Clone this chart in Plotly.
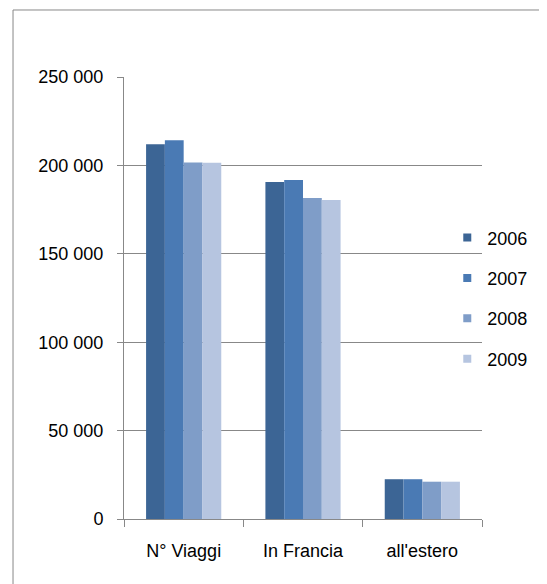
import plotly.graph_objects as go

categories = ["N° Viaggi", "In Francia", "all'estero"]
years = ["2006", "2007", "2008", "2009"]
values_2006 = [212000, 190600, 22500]
values_2007 = [214200, 191700, 22500]
values_2008 = [201700, 181600, 21100]
values_2009 = [201500, 180400, 21100]
series = [values_2006, values_2007, values_2008, values_2009]
colors = ["#3C6595", "#4A7AB4", "#7F9DC8", "#B6C5E0"]

y_tickvals = [0, 50000, 100000, 150000, 200000, 250000]
y_ticktext = ["0", "50 000", "100 000", "150 000", "200 000", "250 000"]

FONT = "Liberation Sans"
GRID = "#888888"

fig = go.Figure()
for name, vals, col in zip(years, series, colors):
    fig.add_trace(go.Bar(x=categories, y=vals, name=name, marker_color=col,
                         marker_line_width=0, showlegend=False))
for name, col in zip(years, colors):
    fig.add_trace(go.Scatter(x=[None], y=[None], mode="markers", name=name,
                             legendgroup=name,
                             marker=dict(symbol="square", size=8, color=col)))

fig.update_layout(
    width=547, height=584,
    margin=dict(l=116, r=73, t=69, b=73),
    paper_bgcolor="white", plot_bgcolor="white",
    font=dict(family=FONT, size=18, color="#000000"),
    barmode="group", bargap=0.37, bargroupgap=0,
    legend=dict(x=0.903, y=0.678, xanchor="left", yanchor="top",
                bgcolor="rgba(0,0,0,0)", tracegroupgap=14,
                font=dict(family=FONT, size=18), itemwidth=30),
    xaxis=dict(showline=True, linecolor=GRID, linewidth=1,
               ticks="outside", ticklen=7, tickcolor=GRID, tickson="boundaries",
               showgrid=False, ticklabelstandoff=15),
    yaxis=dict(range=[0, 250000], tickvals=y_tickvals, ticktext=y_ticktext,
               showline=True, linecolor=GRID, linewidth=1,
               ticks="outside", ticklen=6, tickcolor=GRID,
               showgrid=True, gridcolor=GRID, gridwidth=1, zeroline=False,
               ticklabelstandoff=10),
    shapes=[dict(type="rect", xref="paper", yref="paper",
                 x0=-0.310, x1=2, y0=-1, y1=1.1516,
                 line=dict(color=GRID, width=1), layer="below")],
)

fig.write_html("out.html")
